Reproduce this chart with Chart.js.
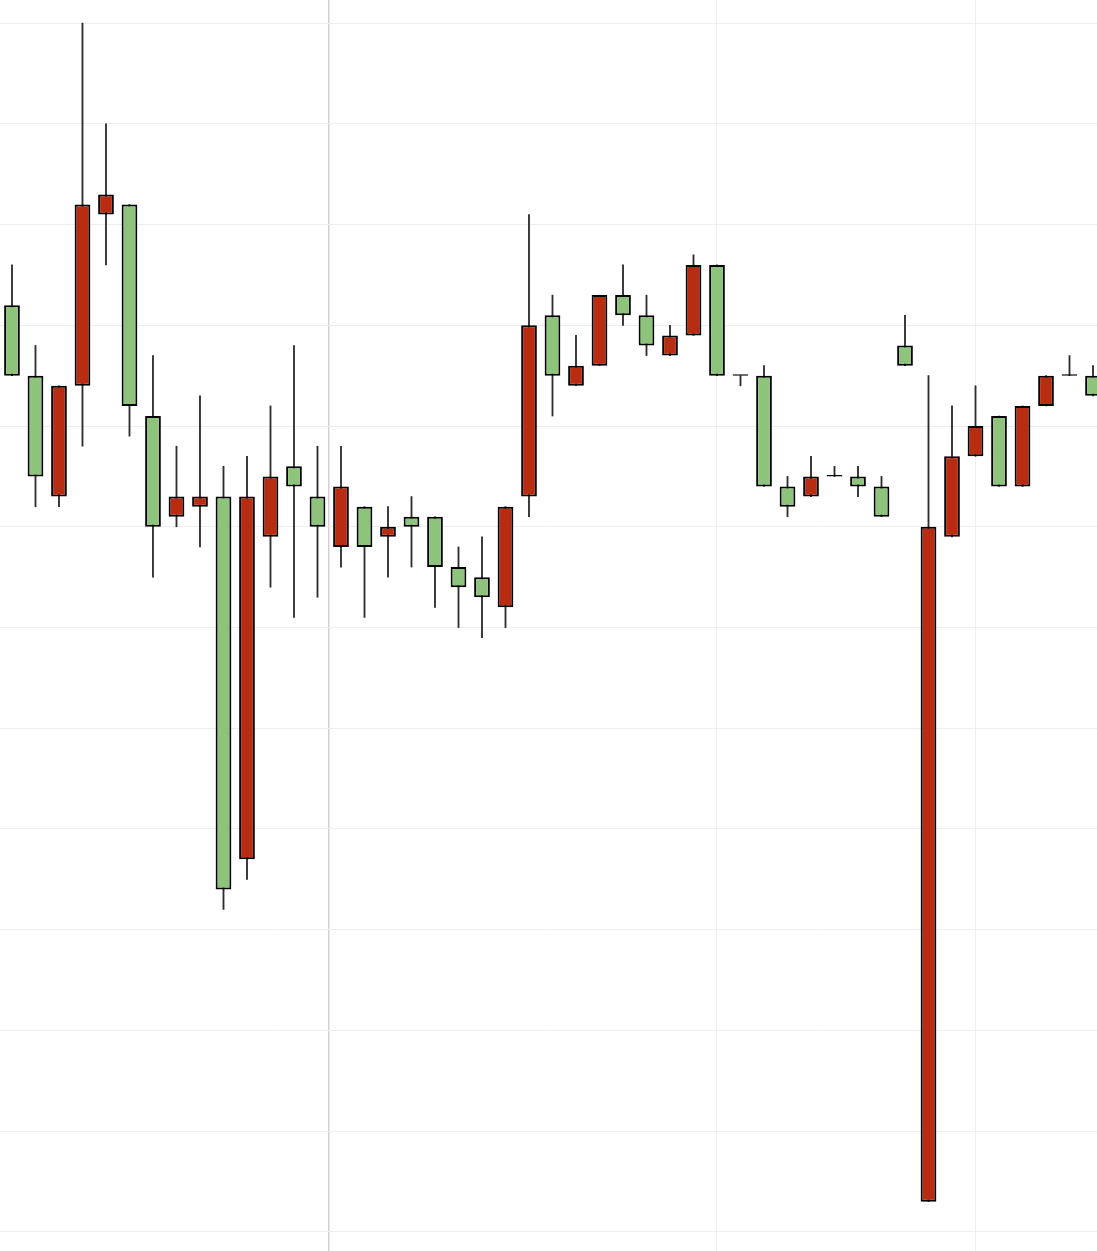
<!DOCTYPE html>
<html>
<head>
<meta charset="utf-8">
<title>Candles</title>
<script src="https://cdn.jsdelivr.net/npm/chart.js@4.4.1/dist/chart.umd.min.js"></script>
<style>
  html, body { margin: 0; padding: 0; background: #fff; }
  .wrap { width: 1097px; height: 1251px; position: relative; }
</style>
</head>
<body>
<div class="wrap"><canvas id="myChart"></canvas></div>
<script>
/* candle data, one entry per session */
const opens = [48.5, 47.5, 48.4, 50.2, 50.3, 48.2, 47.0, 47.3, 47.3, 43.4, 47.3, 47.5, 47.4, 47.0, 47.4, 46.8,
  47.0, 47.0, 46.6, 46.4, 46.3, 47.2, 49.0, 48.5, 48.6, 49.3, 49.1, 48.8, 48.9, 49.6, 48.5, 48.5,
  47.4, 47.2, 47.5, 47.5, 47.4, 47.1, 48.6, 47.0, 47.7, 48.0, 47.4, 48.2, 48.5, 48.5, 48.3];
const highs = [49.6, 48.8, 48.4, 52.0, 51.0, 50.2, 48.7, 47.8, 48.3, 47.6, 47.7, 48.2, 48.8, 47.8, 47.8, 47.2,
  47.2, 47.3, 47.1, 46.8, 46.9, 47.2, 50.1, 49.3, 48.9, 49.3, 49.6, 49.3, 49.0, 49.7, 49.6, 48.5,
  48.6, 47.5, 47.7, 47.6, 47.6, 47.5, 49.1, 48.5, 48.2, 48.4, 48.1, 48.2, 48.5, 48.7, 48.6];
const lows = [48.5, 47.2, 47.2, 47.8, 49.6, 47.9, 46.5, 47.0, 46.8, 43.2, 43.5, 46.4, 46.1, 46.3, 46.6, 46.1,
  46.5, 46.6, 46.2, 46.0, 45.9, 46.0, 47.1, 48.1, 48.4, 48.6, 49.0, 48.7, 48.7, 48.9, 48.5, 48.4,
  47.4, 47.1, 47.3, 47.5, 47.3, 47.1, 48.6, 40.3, 46.9, 47.7, 47.4, 47.4, 48.2, 48.5, 48.3];
const closes = [49.2, 48.5, 47.3, 48.4, 50.1, 50.2, 48.1, 47.1, 47.2, 47.3, 43.7, 46.9, 47.6, 47.3, 46.8, 47.2,
  46.9, 47.1, 47.1, 46.6, 46.5, 46.2, 47.3, 49.1, 48.4, 48.6, 49.3, 49.1, 48.7, 48.9, 49.6, 48.5,
  48.5, 47.4, 47.3, 47.5, 47.5, 47.4, 48.8, 40.3, 46.9, 47.7, 48.1, 47.4, 48.2, 48.5, 48.5];

/* price grid lines and session dividers (in candle index units) */
const priceTicks = [40, 41, 42, 43, 44, 45, 46, 47, 48, 49, 50, 51, 52];
const dividers = [13.5, 30, 41];

const upColor = '#8dc37a';
const downColor = '#b82c12';

/* build the two floating-bar series: wicks behind, bodies on top */
const wicks = opens.map((o, i) => ({ x: i, y: [lows[i], highs[i]] }));
const bodies = opens.map((o, i) => ({ x: i, y: [o, closes[i]] }));
const bodyColors = opens.map((o, i) => (closes[i] >= o ? upColor : downColor));

const ctx = document.getElementById('myChart');
const myChart = new Chart(ctx, {
  type: 'bar',
  data: {
    datasets: [
      {
        label: 'range',
        data: wicks,
        backgroundColor: '#2e2e2e',
        borderWidth: 0,
        barThickness: 1.2,
        grouped: false,
        order: 2,
      },
      {
        label: 'body',
        data: bodies,
        backgroundColor: bodyColors,
        borderColor: '#000000',
        borderWidth: 2,
        borderSkipped: false,
        inflateAmount: 0,
        barPercentage: 0.67,
        categoryPercentage: 1,
        minBarLength: 1.5,
        grouped: false,
        order: 1,
      },
    ],
  },
  options: {
    responsive: true,
    maintainAspectRatio: false,
    animation: false,
    layout: { padding: 0 },
    plugins: {
      legend: { display: false },
      tooltip: { enabled: false },
    },
    scales: {
      x: {
        type: 'linear',
        min: -0.51,
        max: 46.17,
        offset: false,
        afterBuildTicks: (axis) => {
          axis.ticks = dividers.map((v) => ({ value: v }));
        },
        ticks: { display: false },
        border: { display: false },
        grid: {
          offset: false,
          drawTicks: false,
          color: (c) => (c.tick && c.tick.value === dividers[0] ? '#d2d2d2' : '#efefef'),
          lineWidth: (c) => (c.tick && c.tick.value === dividers[0] ? 1.5 : 1),
        },
      },
      y: {
        type: 'linear',
        min: 39.81,
        max: 52.23,
        afterBuildTicks: (axis) => {
          axis.ticks = priceTicks.map((v) => ({ value: v }));
        },
        ticks: { display: false },
        border: { display: false },
        grid: {
          drawTicks: false,
          color: '#ededed',
          lineWidth: 1,
        },
      },
    },
  },
});
</script>
</body>
</html>
